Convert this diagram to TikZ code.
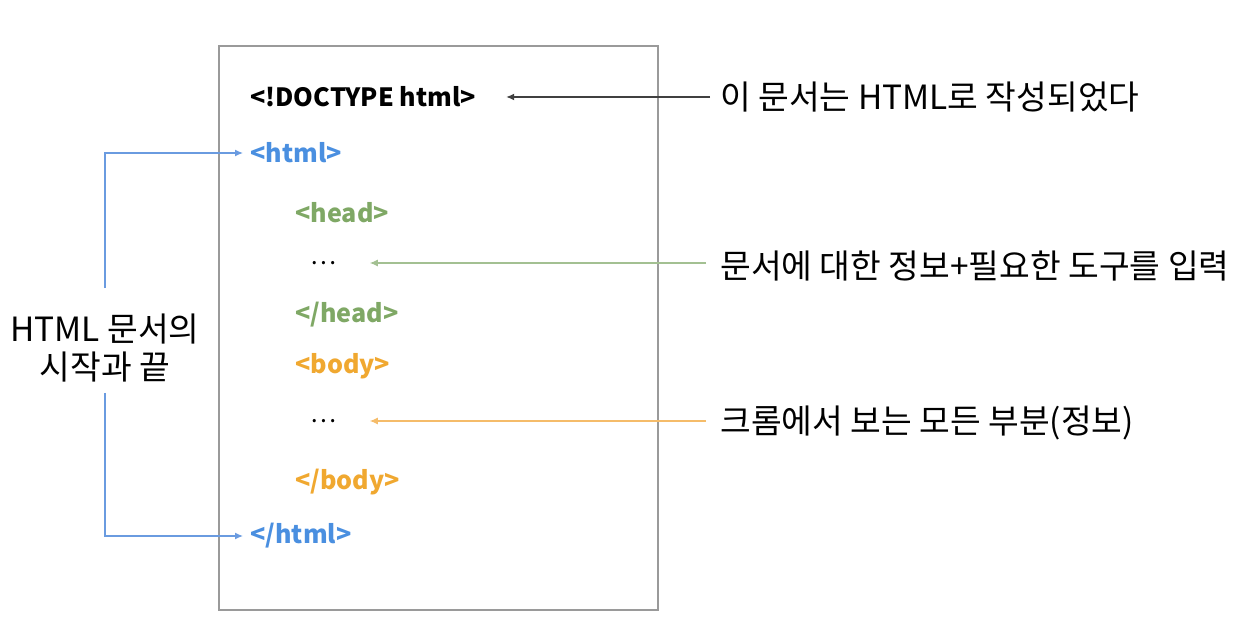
\documentclass[tikz,border=0pt]{standalone}
\usepackage{fontspec}
\setmainfont{Noto Sans CJK KR}
\usetikzlibrary{positioning,arrows.meta}
\definecolor{tagblue}{HTML}{4A8FE0}
\definecolor{taggreen}{HTML}{7FA865}
\definecolor{tagorange}{HTML}{F0A830}
\definecolor{blueline}{HTML}{6A9BE0}
\definecolor{greenline}{HTML}{A3C092}
\definecolor{orangeline}{HTML}{F5BC6A}
\definecolor{boxgray}{HTML}{9A9A9A}

\begin{document}
\begin{tikzpicture}[x=0.02cm,y=-0.02cm,
  tag/.style={anchor=west,inner sep=0pt,font=\fontsize{14.3}{16}\selectfont\bfseries},
  note/.style={anchor=west,inner sep=0pt,font=\fontsize{19}{23}\selectfont},
  dots/.style={anchor=west,inner sep=0pt,font=\fontsize{14}{16}\selectfont},
  arr/.style={-{Latex[length=1.6mm,width=1.4mm]},line width=0.7pt}
]
\useasboundingbox (0,0) rectangle (1246,631);
\draw[boxgray,line width=0.9pt] (219,46) rectangle (658,610);

% tags inside the page
\node[tag,text=black] (doctype) at (250,97) {<!DOCTYPE html>};
\node[tag,text=tagblue] (htmlopen) at (250,153) {<html>};
\node[tag,text=taggreen] (headopen) at (295,213) {<head>};
\node[dots] (headdots) at (310,263) {⋯};
\node[tag,text=taggreen] (headclose) at (295,315) {</head>};
\node[tag,text=tagorange] (bodyopen) at (295,366) {<body>};
\node[dots] (bodydots) at (310,421) {⋯};
\node[tag,text=tagorange] (bodyclose) at (295,482) {</body>};
\node[tag,text=tagblue] (htmlclose) at (250,536) {</html>};

% notes
\node[note] (docnote) at (720,97) {이 문서는 HTML로 작성되었다};
\node[note] (headnote) at (720,266) {문서에 대한 정보+필요한 도구를 입력};
\node[note] (bodynote) at (720,423) {크롬에서 보는 모든 부분(정보)};
\node[inner sep=0pt,align=center,font=\fontsize{19}{22}\selectfont] (startend) at (105,348) {HTML 문서의\\시작과 끝};

\draw[arr,black!75] ([xshift=-0.2cm]docnote.west |- doctype.east) -- ([xshift=0.6cm]doctype.east);
\draw[arr,greenline] ([xshift=-0.28cm]headnote.west |- headdots.east) -- ([xshift=0.66cm]headdots.east);
\draw[arr,orangeline] ([xshift=-0.28cm]bodynote.west |- bodydots.east) -- ([xshift=0.66cm]bodydots.east);
\draw[arr,blueline] ([yshift=0.5cm]startend.north) |- ([xshift=-0.14cm]htmlopen.west);
\draw[arr,blueline] ([yshift=-0.2cm]startend.south) |- ([xshift=-0.14cm]htmlclose.west);
\end{tikzpicture}
\end{document}
